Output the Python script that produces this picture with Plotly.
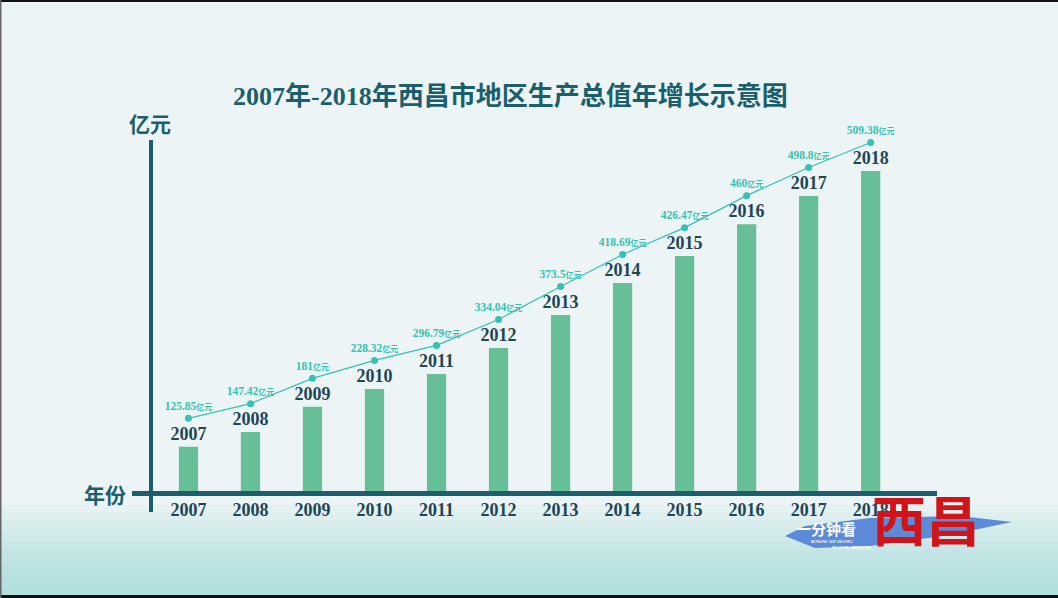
import plotly.graph_objects as go

years = [2007, 2008, 2009, 2010, 2011, 2012, 2013, 2014, 2015, 2016, 2017, 2018]
year_labels = [str(y) for y in years]
gdp_values = [125.85, 147.42, 181, 228.32, 296.79, 334.04, 373.5, 418.69, 426.47, 460, 498.8, 509.38]
gdp_text = ["125.85", "147.42", "181", "228.32", "296.79", "334.04", "373.5", "418.69", "426.47", "460", "498.8", "509.38"]
# bar heights as drawn in the picture (schematic, 2018 = 100)
bar_level = [13.8, 18.4, 26.3, 31.9, 36.6, 44.7, 55.0, 65.0, 73.4, 83.4, 92.2, 100]

TEAL_DARK = "#1b5f6e"
NAVY = "#1d4757"
GREEN = "#67bf97"
LINE = "#34c3b3"
SERIF = "Liberation Serif, Noto Sans CJK SC"

fig = go.Figure()

fig.add_trace(go.Bar(
    x=years, y=bar_level, width=0.31,
    marker=dict(color=GREEN, line=dict(width=0)),
    text=year_labels, textposition="outside", constraintext="none",
    textfont=dict(family=SERIF, size=18, color=NAVY, weight="bold"),
    cliponaxis=False, hoverinfo="skip",
))

fig.add_trace(go.Scatter(
    x=years, y=bar_level, yaxis="y2",
    mode="lines+markers+text",
    line=dict(color=LINE, width=1.2),
    marker=dict(color=LINE, size=7),
    text=[f"{t}<span style='font-size:8px'>亿元</span>" for t in gdp_text],
    textposition="top center",
    textfont=dict(family=SERIF, size=11.5, color=LINE, weight="bold"),
    cliponaxis=False, customdata=gdp_values, hoverinfo="skip",
))

W, H = 1058, 598
L, R, T, B = 151, 121, 100, 107
pw, ph = W - L - R, H - T - B

def px(x):
    return (x - L) / pw

def py(y):
    return (H - B - y) / ph

shapes = []
# soft cyan glow towards the bottom (stacked translucent bands)
for k in range(12):
    y_top = 505 + k * 7.5
    shapes.append(dict(type="rect", xref="paper", yref="paper", x0=px(0), x1=px(W),
                       y0=py(H), y1=py(y_top), fillcolor="#92d0d4", opacity=0.07,
                       line=dict(width=0), layer="below"))
shapes += [
    dict(type="rect", xref="paper", yref="paper", x0=px(0), x1=px(W), y0=py(2), y1=py(0),
         fillcolor="#111111", line=dict(width=0)),
    dict(type="rect", xref="paper", yref="paper", x0=px(0), x1=px(W), y0=py(H), y1=py(595),
         fillcolor="#111111", line=dict(width=0)),
    dict(type="rect", xref="paper", yref="paper", x0=px(0), x1=px(1.5), y0=py(H), y1=py(0),
         fillcolor="#666666", line=dict(width=0)),
    # axis lines
    dict(type="line", xref="paper", yref="paper", x0=px(132), x1=px(937), y0=py(493.5), y1=py(493.5),
         line=dict(color=TEAL_DARK, width=5)),
    dict(type="line", xref="paper", yref="paper", x0=px(151), x1=px(151), y0=py(140), y1=py(512),
         line=dict(color=TEAL_DARK, width=4)),
    # logo brush
    dict(type="path", xref="paper", yref="paper",
         path=f"M {px(785)},{py(536)} L {px(805)},{py(526)} L {px(870)},{py(518)} L {px(960)},{py(516)} "
              f"L {px(1012)},{py(522)} L {px(950)},{py(535)} L {px(870)},{py(546)} L {px(815)},{py(548)} Z",
         fillcolor="#4f7fd6", opacity=0.9, line=dict(width=0)),
]

def ann(text, x, y, size, color, family="Noto Sans CJK SC", bold=True):
    return dict(text=text, x=px(x), y=py(y), xref="paper", yref="paper", showarrow=False,
                xanchor="center", yanchor="middle",
                font=dict(family=family, size=size, color=color, weight="bold" if bold else "normal"))

annotations = [
    ann("2007年-2018年西昌市地区生产总值年增长示意图", 510, 97, 26, TEAL_DARK, SERIF),
    ann("亿元", 150, 123, 21, TEAL_DARK),
    ann("年份", 105, 494, 21, TEAL_DARK),
    ann("一分钟看", 826, 528, 15, "white"),
    ann("KNOW XICHANG", 832, 541.5, 5, "white", SERIF),
    ann("IN ONE MINUTE", 852, 547.5, 5, "white", SERIF),
    ann("西昌", 926, 518, 54, "#d01419"),
]

fig.update_layout(
    width=W, height=H,
    margin=dict(l=L, r=R, t=T, b=B),
    paper_bgcolor="#edf4f5", plot_bgcolor="rgba(0,0,0,0)",
    showlegend=False,
    xaxis=dict(range=[2006.396, 2019.07], tickvals=years, ticktext=year_labels,
               showgrid=False, zeroline=False, showline=False, ticks="",
               ticklabelstandoff=6,
               tickfont=dict(family=SERIF, size=18, color=NAVY, weight="bold")),
    yaxis=dict(range=[0, 122.19], visible=False, showgrid=False),
    yaxis2=dict(range=[-8.9, 113.29], overlaying="y", visible=False, showgrid=False),
    shapes=shapes, annotations=annotations,
)

fig.write_html("out.html", config={"displayModeBar": False},
               post_script="document.body.style.margin='0';")
